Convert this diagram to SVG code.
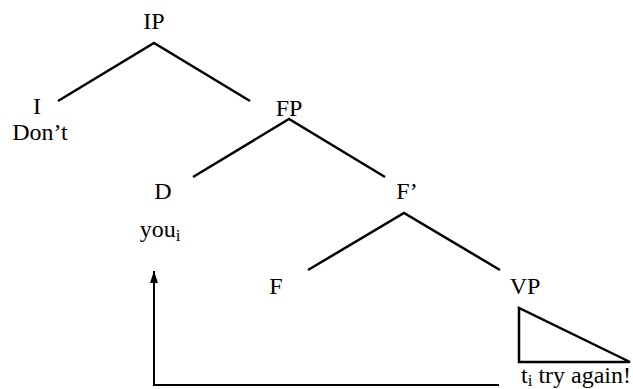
<svg xmlns="http://www.w3.org/2000/svg" width="633" height="389" viewBox="0 0 633 389">
<style>
text{font-family:"Liberation Serif","Times New Roman",serif;font-size:24px;fill:#000;text-anchor:middle}
.sub{font-size:17px}
.edge{stroke:#000;stroke-width:2.5;fill:none}
.mv{stroke:#000;stroke-width:2;fill:none}
</style>
<defs>
<marker id="ah" viewBox="0 0 12 8" refX="12" refY="4" markerWidth="12" markerHeight="8" markerUnits="userSpaceOnUse" orient="auto">
<path d="M0,0 L12,4 L0,8 z" fill="#000"/>
</marker>
</defs>
<rect width="633" height="389" fill="#fff"/>
<g id="IP"><text x="154" y="29">IP</text></g>
<g id="I"><text x="37" y="114">I</text><text x="40" y="140">Don’t</text></g>
<g id="FP"><text x="289" y="116">FP</text></g>
<g id="D"><text x="163" y="199">D</text><text x="160" y="237">you<tspan class="sub" dy="4">i</tspan></text></g>
<g id="Fbar"><text x="407" y="199">F’</text></g>
<g id="F"><text x="276" y="294">F</text></g>
<g id="VP"><text x="525" y="294">VP</text><polygon class="edge" points="519,308 519,362 630,362"/><text x="576" y="383">t<tspan class="sub" dy="3">i</tspan><tspan dy="-3"> try again!</tspan></text></g>
<g id="connectors">
<polyline class="edge" points="58,101 154,43 250,101"/>
<polyline class="edge" points="193,177 289,119 385,177"/>
<polyline class="edge" points="308,270 404,213 500,270"/>
<polyline class="mv" points="499,385 154,385 154,271" marker-end="url(#ah)"/>
</g>
</svg>
